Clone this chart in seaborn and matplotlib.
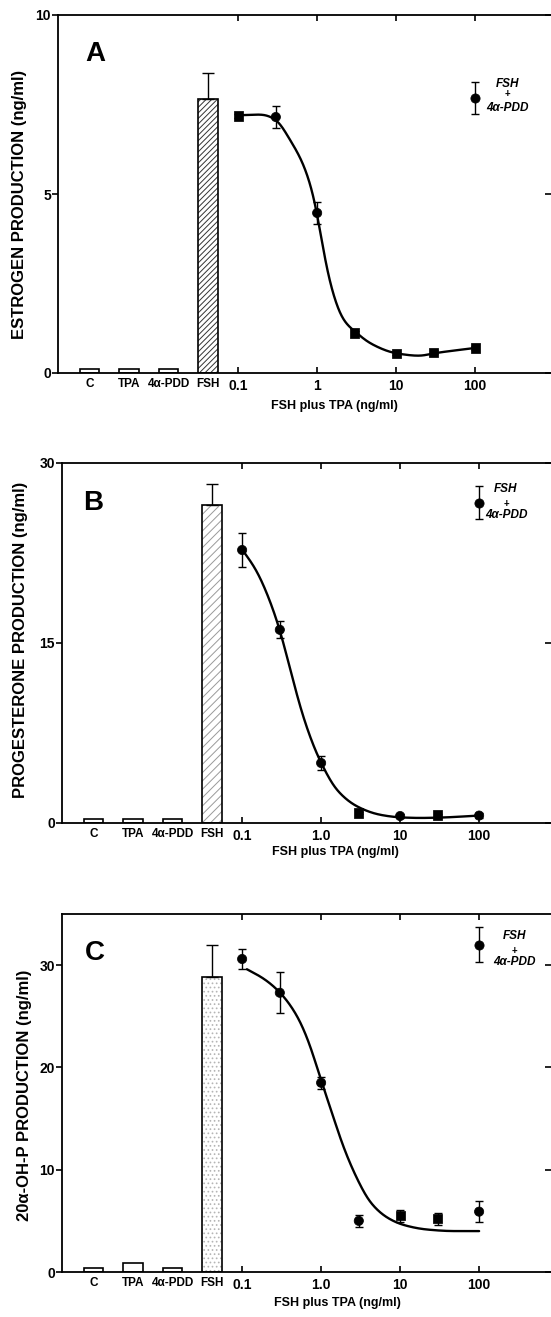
import numpy as np
import pandas as pd
import matplotlib
matplotlib.use("Agg")
import matplotlib.pyplot as plt
import matplotlib.transforms as mtransforms
import seaborn as sns

sns.set_theme(style="white")
plt.rcParams["font.family"] = ["Liberation Sans", "DejaVu Sans"]
plt.rcParams["font.weight"] = "bold"
plt.rcParams["hatch.linewidth"] = 0.7
for key in ["text.color", "axes.labelcolor", "xtick.color", "ytick.color"]:
    plt.rcParams[key] = "black"

# ---- shared categories -------------------------------------------------
control_labels = ["C", "TPA", "4α-PDD", "FSH"]
doses = [0.1, 0.3, 1, 3, 10, 30, 100]          # FSH plus TPA, ng/ml
combo_dose = 100                                # FSH + 4α-PDD reference point

# ---- panel A: estrogen ---------------------------------------------------
est_bars = [0.12, 0.12, 0.12, 7.65]
est_bar_err = 0.73
est_mean = [7.18, 7.15, 4.47, 1.12, 0.55, 0.58, 0.70]
est_err = [0.06, 0.30, 0.30, 0.06, 0.05, 0.05, 0.06]
est_shape = ["s", "o", "o", "s", "s", "s", "s"]
est_combo, est_combo_err = 7.68, 0.45
# fitted response curve
est_curve_dose = [0.1, 0.2, 0.3, 0.457, 0.66, 0.89, 1.0, 1.1, 1.46, 2.14,
                  3.16, 4.7, 10, 20, 30, 100]
est_curve_val = [7.2, 7.22, 7.08, 6.5, 5.86, 5.0, 4.47, 3.9, 2.5, 1.48,
                 1.12, 0.83, 0.55, 0.48, 0.55, 0.7]

# ---- panel B: progesterone ----------------------------------------------
prog_bars = [0.3, 0.3, 0.3, 26.5]
prog_bar_err = 1.75
prog_mean = [22.75, 16.1, 5.0, 0.83, 0.58, 0.67, 0.62]
prog_err = [1.4, 0.7, 0.6, 0.1, 0.2, 0.1, 0.2]
prog_shape = ["o", "o", "o", "s", "o", "s", "o"]
prog_combo, prog_combo_err = 26.7, 1.4
prog_curve_dose = [0.1, 0.15, 0.2, 0.3, 0.41, 0.59, 0.89, 1.0, 1.58,
                   2.9, 5.6, 10, 17.8, 31.6, 100]
prog_curve_val = [22.8, 21.1, 19.35, 16.1, 12.7, 8.9, 5.7, 5.0, 2.75,
                  1.35, 0.68, 0.47, 0.42, 0.45, 0.62]

# ---- panel C: 20α-OH-P ---------------------------------------------------
ohp_bars = [0.4, 0.9, 0.35, 28.8]
ohp_bar_err = 3.2
ohp_mean = [30.6, 27.3, 18.5, 5.0, 5.5, 5.2, 5.9]
ohp_err = [1.0, 2.0, 0.6, 0.6, 0.6, 0.6, 1.0]
ohp_shape = ["o", "o", "o", "o", "s", "s", "o"]
ohp_combo, ohp_combo_err = 32.0, 1.7
ohp_curve_dose = [0.115, 0.186, 0.30, 0.50, 0.72, 1.0, 1.29, 1.9,
                  2.9, 4.2, 6.9, 11.0, 21.9, 47.9, 100]
ohp_curve_val = [29.6, 28.7, 27.35, 25.0, 22.2, 18.7, 16.2, 12.3,
                 9.0, 6.8, 5.3, 4.6, 4.15, 4.0, 4.0]


def pchip(xk, yk, xs):
    """Shape-preserving cubic through the fitted curve values."""
    xk = np.asarray(xk, float)
    yk = np.asarray(yk, float)
    h = np.diff(xk)
    d = np.diff(yk) / h
    m = np.zeros_like(yk)
    for i in range(1, len(xk) - 1):
        if d[i - 1] * d[i] > 0:
            w1 = 2 * h[i] + h[i - 1]
            w2 = h[i] + 2 * h[i - 1]
            m[i] = (w1 + w2) / (w1 / d[i - 1] + w2 / d[i])
    m[0] = d[0]
    m[-1] = d[-1]
    idx = np.clip(np.searchsorted(xk, xs) - 1, 0, len(h) - 1)
    t = (xs - xk[idx]) / h[idx]
    h00 = 2 * t**3 - 3 * t**2 + 1
    h10 = t**3 - 2 * t**2 + t
    h01 = -2 * t**3 + 3 * t**2
    h11 = t**3 - t**2
    return (h00 * yk[idx] + h10 * h[idx] * m[idx]
            + h01 * yk[idx + 1] + h11 * h[idx] * m[idx + 1])


def smooth_curve(xk, yk, n=800, sigma=0.05):
    """PCHIP through the curve values, softened with a Gaussian kernel
    (sigma in decades); ends are padded by odd reflection."""
    xs = np.linspace(xk[0], xk[-1], n)
    ys = pchip(xk, yk, xs)
    dx = xs[1] - xs[0]
    s = sigma / dx
    k = int(4 * s)
    ker = np.exp(-0.5 * (np.arange(-k, k + 1) / s) ** 2)
    ker /= ker.sum()
    left = 2 * ys[0] - ys[1:k + 1][::-1]
    right = 2 * ys[-1] - ys[-k - 1:-1][::-1]
    padded = np.concatenate([left, ys, right])
    return xs, np.convolve(padded, ker, mode="valid")


# bar positions on the log10-dose axis (half a decade apart, left of 0.1)
bar_pos = [-2.88, -2.38, -1.88, -1.38]
FIG_W, FIG_H = 551, 1317

fig = plt.figure(figsize=(FIG_W / 100, FIG_H / 100), dpi=100)


def panel(rect_px, xlim, ylim, yticks, ylabel, ylab_xy, letter, letter_xy,
          bars, bar_err, hatch, hatch_col, mean, err, shape, curve_dose,
          curve_val, combo, combo_err, dose_ticklabels, leg_x, leg_y, xlab_xy):
    l, t, r, b = rect_px
    ax = fig.add_axes([l / FIG_W, 1 - b / FIG_H, (r - l) / FIG_W, (b - t) / FIG_H])
    logd = np.log10(doses)

    # control / FSH bars: hatch layer then outline
    bar_df = pd.DataFrame({"pos": bar_pos, "val": bars, "grp": control_labels})
    sns.barplot(data=bar_df, x="pos", y="val", native_scale=True, width=0.5,
                color="white", saturation=1, edgecolor=hatch_col, linewidth=0,
                errorbar=None, ax=ax)
    ax.patches[3].set_hatch(hatch)
    sns.barplot(data=bar_df, x="pos", y="val", native_scale=True, width=0.5,
                fill=False, color="black", linewidth=1.2, errorbar=None, ax=ax)
    ax.errorbar(bar_pos[3], bars[3], yerr=[[0], [bar_err]], fmt="none",
                ecolor="black", elinewidth=1.0, capsize=4, capthick=1.0)

    # fitted dose-response curve
    xs, ys = smooth_curve(np.log10(curve_dose), curve_val)
    sns.lineplot(x=xs, y=ys, color="black", lw=1.7, ax=ax)

    # means with error bars
    ax.errorbar(logd, mean, yerr=err, fmt="none", ecolor="black",
                elinewidth=1.0, capsize=3, capthick=1.0, zorder=3)
    pts = pd.DataFrame({"x": logd, "y": mean, "shape": shape})
    sns.scatterplot(data=pts, x="x", y="y", style="shape",
                    markers={"o": "o", "s": "s"}, s=44, color="black",
                    edgecolor="black", legend=False, zorder=4, ax=ax)

    # FSH + 4α-PDD reference point
    cx = np.log10(combo_dose)
    ax.errorbar([cx], [combo], yerr=[combo_err], fmt="none", ecolor="black",
                elinewidth=1.0, capsize=3, capthick=1.0)
    sns.scatterplot(x=[cx], y=[combo], marker="o", s=44, color="black",
                    edgecolor="black", ax=ax, zorder=4)
    ax.text(leg_x, leg_y[0], "FSH", transform=ax.transAxes, ha="center",
            va="baseline", fontsize=8.5, fontstyle="italic", fontweight="bold")
    ax.text(leg_x, leg_y[1], "+", transform=ax.transAxes, ha="center",
            va="baseline", fontsize=7, fontweight="bold")
    ax.text(leg_x, leg_y[2], "4α-PDD", transform=ax.transAxes, ha="center",
            va="baseline", fontsize=8.5, fontstyle="italic", fontweight="bold")

    # axes cosmetics
    ax.set_xlim(*xlim)
    ax.set_ylim(*ylim)
    for side in ["left", "bottom", "top"]:
        ax.spines[side].set_visible(True)
        ax.spines[side].set_color("black")
        ax.spines[side].set_linewidth(1.3)
    ax.spines["right"].set_visible(False)

    ax.set_xticks([-1, 0, 1, 2])
    ax.set_xticklabels(dose_ticklabels, fontsize=10, fontweight="bold")
    ax.tick_params(axis="x", direction="in", top=True, bottom=True,
                   length=4, width=1.2, pad=4, colors="black")
    ax.set_yticks(yticks)
    ax.set_yticklabels([str(v) for v in yticks], fontsize=10, fontweight="bold")
    ax.tick_params(axis="y", direction="out", left=True, right=False,
                   length=4, width=1.2, pad=1, colors="black")
    sec = ax.secondary_yaxis("right")
    sec.set_yticks(yticks)
    sec.set_yticklabels([])
    sec.tick_params(direction="in", length=4, width=1.2, colors="black")
    sec.spines["right"].set_visible(False)

    tr = mtransforms.blended_transform_factory(ax.transData, ax.transAxes)
    for p, lab in zip(bar_pos, control_labels):
        ax.text(p, -0.013, lab, transform=tr, ha="center", va="top",
                fontsize=8.5, fontweight="bold")

    ax.set_xlabel("FSH plus TPA (ng/ml)", fontsize=9, fontweight="bold")
    ax.xaxis.set_label_coords(*xlab_xy)
    ax.set_ylabel(ylabel, fontsize=12, fontweight="bold")
    ax.yaxis.set_label_coords(*ylab_xy)
    ax.text(letter_xy[0], letter_xy[1], letter, transform=ax.transAxes,
            ha="center", va="center", fontsize=20, fontweight="bold")
    return ax


panel((58, 15, 551, 373), (-3.28, 2.96), (0, 10), [0, 5, 10],
      "ESTROGEN PRODUCTION (ng/ml)", (-0.063, 0.472), "A", (0.075, 0.89),
      est_bars, est_bar_err, "//////", "#333333",
      est_mean, est_err, est_shape, est_curve_dose, est_curve_val,
      est_combo, est_combo_err,
      ["0.1", "1", "10", "100"], 0.911, (0.798, 0.772, 0.732), (0.56, -0.075))

panel((62, 463, 551, 823), (-3.28, 2.91), (0, 30), [0, 15, 30],
      "PROGESTERONE PRODUCTION (ng/ml)", (-0.07, 0.508), "B", (0.064, 0.89),
      prog_bars, prog_bar_err, "////", "#9a9a9a",
      prog_mean, prog_err, prog_shape, prog_curve_dose, prog_curve_val,
      prog_combo, prog_combo_err,
      ["0.1", "1.0", "10", "100"], 0.908, (0.919, 0.879, 0.847), (0.56, -0.064))

panel((62, 914, 551, 1272), (-3.28, 2.91), (0, 35), [0, 10, 20, 30],
      "20α-OH-P PRODUCTION (ng/ml)", (-0.061, 0.494), "C", (0.067, 0.89),
      ohp_bars, ohp_bar_err, "....", "#b5b5b5",
      ohp_mean, ohp_err, ohp_shape, ohp_curve_dose, ohp_curve_val,
      ohp_combo, ohp_combo_err,
      ["0.1", "1.0", "10", "100"], 0.926, (0.929, 0.889, 0.858), (0.564, -0.07))

fig.savefig("out.png", dpi=100, facecolor="white")
